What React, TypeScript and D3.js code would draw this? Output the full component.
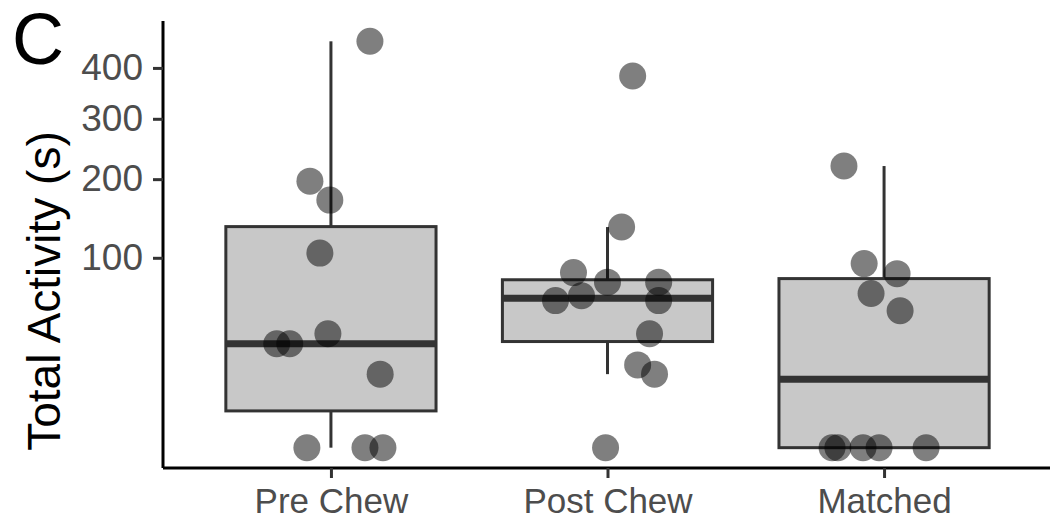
import React, { useEffect, useRef } from 'react';
import * as d3 from 'd3';

// values in seconds
const categories = ['Pre Chew', 'Post Chew', 'Matched'];
const preChew = [458, 197, 170, 105, 36, 30, 30, 15, 0, 0, 0];
const postChew = [383, 135, 85, 76, 76, 60, 64, 60, 36, 19, 15, 0];
const matched = [220, 94, 84, 66, 52, 0, 0, 0, 0, 0];
// horizontal jitter, in category units
const preJitter = [0.141, -0.076, -0.004, -0.04, -0.011, -0.196, -0.149, 0.178, -0.087, 0.123, 0.188];
const postJitter = [0.091, 0.051, -0.123, 0, 0.185, -0.188, -0.094, 0.185, 0.152, 0.109, 0.17, -0.007];
const matchedJitter = [-0.145, -0.072, 0.047, -0.047, 0.058, -0.188, -0.167, -0.076, -0.018, 0.152];
const yTicks = [100, 200, 300, 400];

const series = [
  { name: categories[0], values: preChew, jitter: preJitter },
  { name: categories[1], values: postChew, jitter: postJitter },
  { name: categories[2], values: matched, jitter: matchedJitter },
];

const font = "'Liberation Sans', Arial, sans-serif";

// box stats on the sqrt scale, like ggplot does
function boxStats(values: number[]) {
  const s = values.map(Math.sqrt).sort(d3.ascending);
  const q1 = d3.quantileSorted(s, 0.25) as number;
  const med = d3.quantileSorted(s, 0.5) as number;
  const q3 = d3.quantileSorted(s, 0.75) as number;
  const iqr = q3 - q1;
  const lo = d3.min(s.filter((v) => v >= q1 - 1.5 * iqr)) as number;
  const hi = d3.max(s.filter((v) => v <= q3 + 1.5 * iqr)) as number;
  const sq = (v: number) => v * v;
  return { q1: sq(q1), med: sq(med), q3: sq(q3), lo: sq(lo), hi: sq(hi) };
}

export default function App() {
  const ref = useRef<SVGSVGElement>(null);

  useEffect(() => {
    document.body.style.margin = '0';
    const width = 1052;
    const height = 523;
    const left = 163, right = 1050, top = 21, bottom = 468;

    const svg = d3.select(ref.current);
    svg.selectAll('*').remove();
    svg.attr('width', width).attr('height', height);

    const all = series.flatMap((d) => d.values);
    const smax = Math.sqrt(d3.max(all) as number);
    const pad = smax * 0.05;
    const y = d3
      .scaleSqrt()
      .domain([-(pad * pad), (smax + pad) * (smax + pad)])
      .range([bottom, top]);

    const x = d3.scaleLinear().domain([0.4, 3.6]).range([left + 2, right]);
    const step = x(2) - x(1);
    const boxW = 0.76 * step;

    const g = svg.append('g');

    series.forEach((s, i) => {
      const cx = x(i + 1);
      const b = boxStats(s.values);
      // whiskers
      g.append('line')
        .attr('x1', cx).attr('x2', cx)
        .attr('y1', y(b.q3)).attr('y2', y(b.hi))
        .attr('stroke', '#333').attr('stroke-width', 3);
      g.append('line')
        .attr('x1', cx).attr('x2', cx)
        .attr('y1', y(b.q1)).attr('y2', y(b.lo))
        .attr('stroke', '#333').attr('stroke-width', 3);
      g.append('rect')
        .attr('x', cx - boxW / 2)
        .attr('y', y(b.q3))
        .attr('width', boxW)
        .attr('height', y(b.q1) - y(b.q3))
        .attr('fill', '#c8c8c8')
        .attr('stroke', '#333')
        .attr('stroke-width', 3);
      g.append('line')
        .attr('x1', cx - boxW / 2).attr('x2', cx + boxW / 2)
        .attr('y1', y(b.med)).attr('y2', y(b.med))
        .attr('stroke', '#333').attr('stroke-width', 7);
    });

    series.forEach((s, i) => {
      g.selectAll('.pt' + i)
        .data(s.values)
        .enter()
        .append('circle')
        .attr('cx', (d, j) => x(i + 1 + s.jitter[j]))
        .attr('cy', (d) => y(d))
        .attr('r', 13.5)
        .attr('fill', 'black')
        .attr('fill-opacity', 0.5);
    });

    // axes
    const yAxis = svg
      .append('g')
      .attr('transform', `translate(${left},0)`)
      .call(d3.axisLeft(y).tickValues(yTicks).tickSize(10).tickSizeOuter(0).tickPadding(10));
    const xAxis = svg
      .append('g')
      .attr('transform', `translate(0,${bottom})`)
      .call(
        d3.axisBottom(x)
          .tickValues([1, 2, 3])
          .tickFormat((d) => categories[(d as number) - 1])
          .tickSize(10)
          .tickSizeOuter(0)
          .tickPadding(10)
      );
    yAxis.select('.domain').attr('d', `M0,${top}V${bottom}`);
    xAxis.select('.domain').attr('d', `M${left},0H${right}`);
    [yAxis, xAxis].forEach((a) => {
      a.select('.domain').attr('stroke', 'black').attr('stroke-width', 3);
      a.selectAll('.tick line').attr('stroke', '#333').attr('stroke-width', 3);
      a.selectAll('.tick text')
        .attr('fill', '#4d4d4d')
        .style('font-family', font)
        .style('font-size', '37px');
    });
    xAxis.selectAll('.tick text').attr('dy', '0.71em').style('font-size', '35px');

    svg.append('text')
      .attr('transform', `translate(60,291) rotate(-90)`)
      .attr('text-anchor', 'middle')
      .style('font-family', font)
      .style('font-size', '46px')
      .attr('fill', 'black')
      .text('Total Activity (s)');

    svg.append('text')
      .attr('x', 12)
      .attr('y', 64)
      .style('font-family', font)
      .style('font-size', '72px')
      .attr('fill', 'black')
      .text('C');
  }, []);

  return (
    <div id="chartArea">
      <svg ref={ref}></svg>
    </div>
  );
}
